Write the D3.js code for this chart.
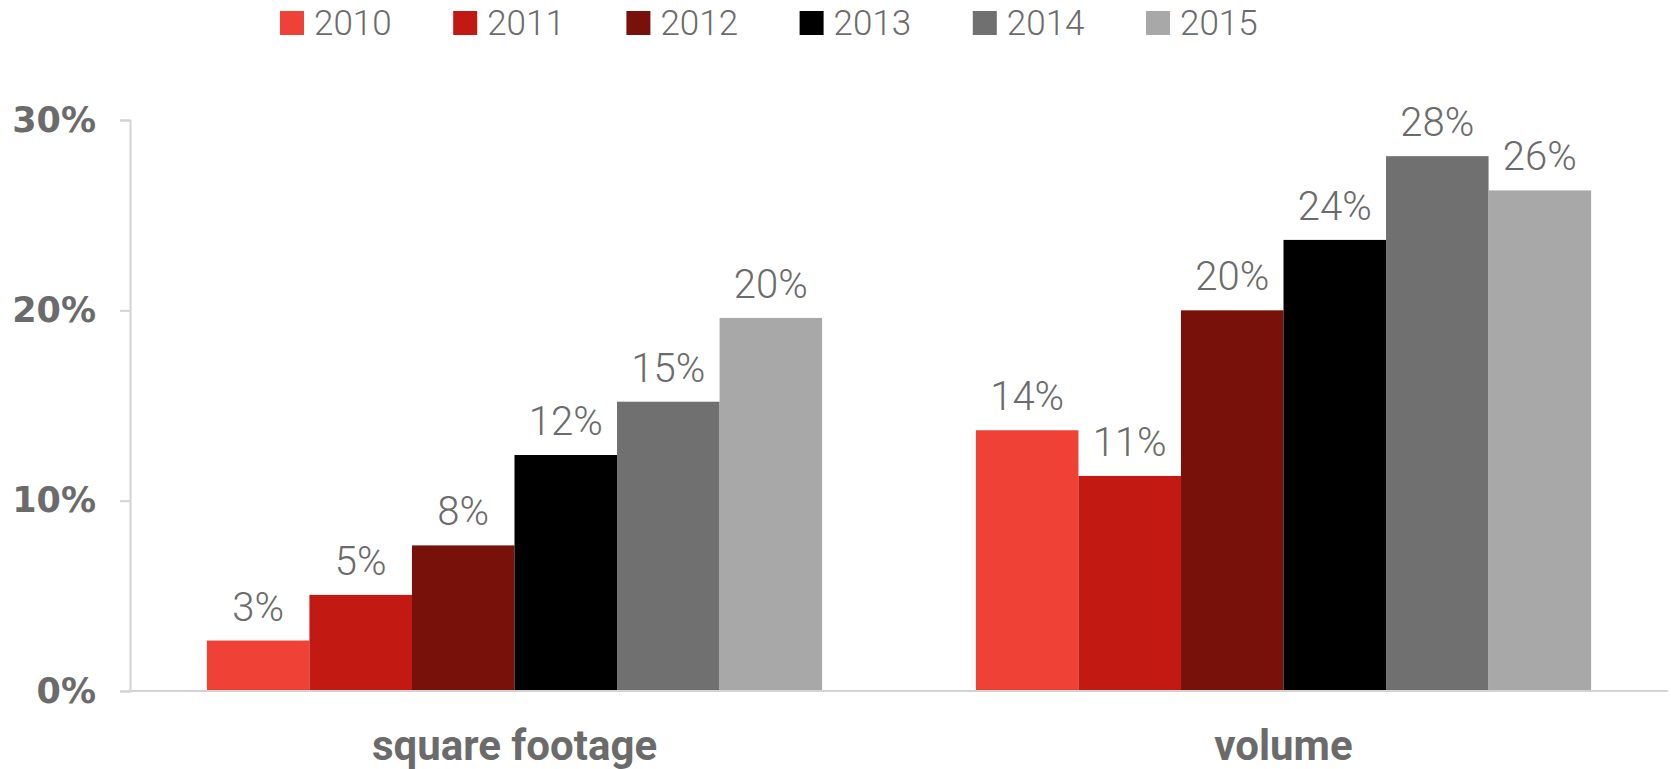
<!DOCTYPE html>
<html>
<head>
<meta charset="utf-8">
<script src="https://cdn.jsdelivr.net/npm/d3@7"></script>
<style>
  html, body { margin: 0; padding: 0; background: #fff; }
  svg { display: block; }
</style>
</head>
<body>
<svg id="chart" width="1671" height="769"></svg>
<script>
const categories = ["square footage", "volume"];
const years = ["2010", "2011", "2012", "2013", "2014", "2015"];
const colors = ["#ef4136", "#c21a12", "#78110a", "#000000", "#707070", "#a8a8a8"];
const squareFootage = [0.0265, 0.0505, 0.0765, 0.124, 0.152, 0.196];
const volume = [0.137, 0.113, 0.200, 0.237, 0.281, 0.263];
const tickValues = [0, 0.1, 0.2, 0.3];

(function () {
const seriesByCat = { "square footage": squareFootage, "volume": volume };
const rows = [];
categories.forEach(c => years.forEach((yr, i) => rows.push({ cat: c, year: yr, value: seriesByCat[c][i] })));

const svg = d3.select("#chart");
const mLeft = 130, mRight = 1668, mTop = 120, mBottom = 691;
const textGray = "#6b6b6b";

const x0 = d3.scaleBand().domain(categories).range([mLeft, mRight]).paddingInner(0.2).paddingOuter(0.1);
const x1 = d3.scaleBand().domain(years).range([0, x0.bandwidth()]);
const y = d3.scaleLinear().domain([0, 0.3]).range([mBottom, mTop]);
const color = d3.scaleOrdinal().domain(years).range(colors);

// y axis
const yAxis = d3.axisLeft(y).tickValues(tickValues).tickSize(10).tickPadding(24).tickFormat(d3.format(".0%"));
const gy = svg.append("g").attr("transform", `translate(${mLeft},0)`).call(yAxis);
gy.select(".domain").attr("stroke", "#d3d3d3").attr("stroke-width", 2);
gy.selectAll(".tick line").attr("stroke", "#d3d3d3").attr("stroke-width", 2);
gy.selectAll(".tick text")
  .attr("fill", textGray)
  .style("font-family", "'DejaVu Sans', sans-serif")
  .style("font-weight", "bold")
  .style("font-size", "35px");

// bars
svg.append("g").selectAll("rect").data(rows).join("rect")
  .attr("x", d => x0(d.cat) + x1(d.year))
  .attr("y", d => y(d.value))
  .attr("width", x1.bandwidth())
  .attr("height", d => y(0) - y(d.value))
  .attr("fill", d => color(d.year));

// baseline
svg.append("line")
  .attr("x1", mLeft).attr("x2", mRight)
  .attr("y1", y(0)).attr("y2", y(0))
  .attr("stroke", "#d3d3d3").attr("stroke-width", 2);

// value labels
svg.append("g").selectAll("text").data(rows).join("text")
  .attr("x", d => x0(d.cat) + x1(d.year) + x1.bandwidth() / 2)
  .attr("y", d => y(d.value) - 20)
  .attr("text-anchor", "middle")
  .attr("fill", textGray)
  .style("font-family", "Roboto, sans-serif")
  .style("font-weight", 300)
  .style("font-size", "40px")
  .text(d => d3.format(".0%")(d.value));

// category labels
svg.append("g").selectAll("text").data(categories).join("text")
  .attr("x", d => x0(d) + x0.bandwidth() / 2)
  .attr("y", 760)
  .attr("text-anchor", "middle")
  .attr("fill", textGray)
  .style("font-family", "Roboto, sans-serif")
  .style("font-weight", "bold")
  .style("font-size", "42px")
  .text(d => d);

// legend
const legendX = d3.scalePoint().domain(years).range([280, 1146]);
const lg = svg.append("g").selectAll("g").data(years).join("g")
  .attr("transform", d => `translate(${legendX(d)},11)`);
lg.append("rect").attr("width", 24).attr("height", 24).attr("fill", d => color(d));
lg.append("text")
  .attr("x", 34).attr("y", 24)
  .attr("fill", textGray)
  .style("font-family", "Roboto, sans-serif")
  .style("font-weight", 300)
  .style("font-size", "35px")
  .text(d => d);
})();
</script>
</body>
</html>
